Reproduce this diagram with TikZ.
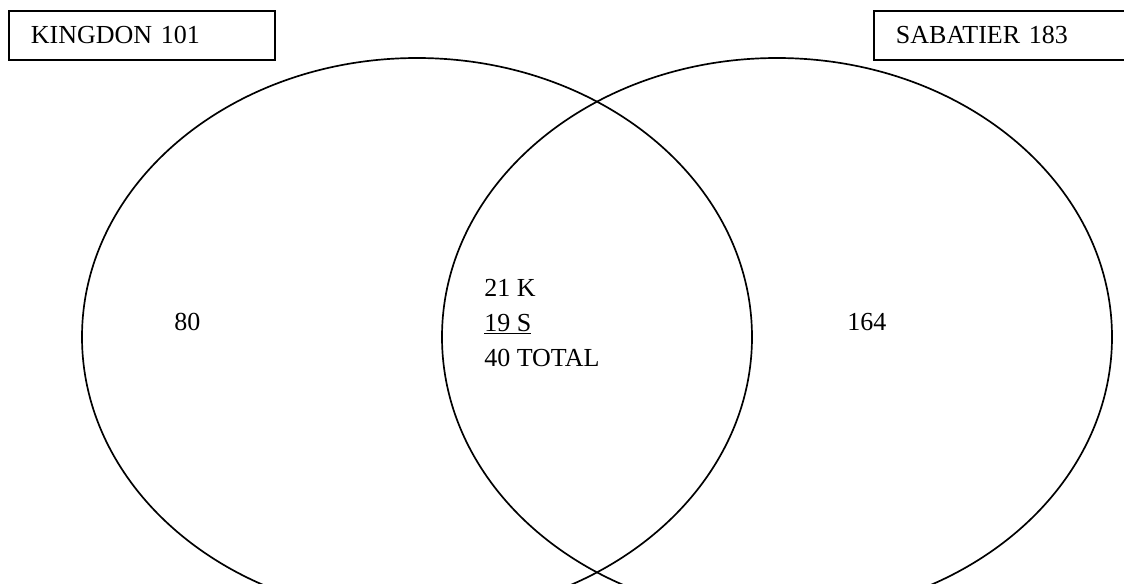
\documentclass[tikz,border=0pt]{standalone}
\usepackage{fontspec}
\setmainfont{Liberation Serif}
\usetikzlibrary{shapes.geometric}

\begin{document}
\begin{tikzpicture}
% définition des styles
\tikzstyle{boite}=[rectangle, draw=black, line width=1.3pt, anchor=north west, minimum height=1.225cm, inner xsep=0.55cm, text width=5.55cm, align=left, font=\fontsize{18.5}{22}\selectfont]
\tikzstyle{ensemble}=[ellipse, draw=black, line width=1.2pt, minimum width=16.75cm, minimum height=13.95cm, inner sep=0pt]
\tikzstyle{nombre}=[anchor=west, inner sep=0pt, align=left, font=\fontsize{18.5}{24.9}\selectfont]

\useasboundingbox (0,0) rectangle (28.1,-14.6);
\begin{scope}
\clip (0,0) rectangle (28.1,-14.6);

% les ensembles
\node[ensemble] (K) at (10.425,-8.425) {};
\node[ensemble] (S) at (19.425,-8.425) {};

% les étiquettes
\node[boite] (KB) at (0.2,-0.25) {KINGDON 101};
\node[boite] (SB) at (21.825,-0.25) {SABATIER 183};

% les effectifs
\node[nombre] (K80) at (4.35,-8.05) {80};
\node[nombre] (S164) at (21.175,-8.05) {164};
\node[nombre] (KS) at (12.1,-8.075) {21 K\\\underline{19 S}\\40 TOTAL};
\end{scope}
\end{tikzpicture}
\end{document}
